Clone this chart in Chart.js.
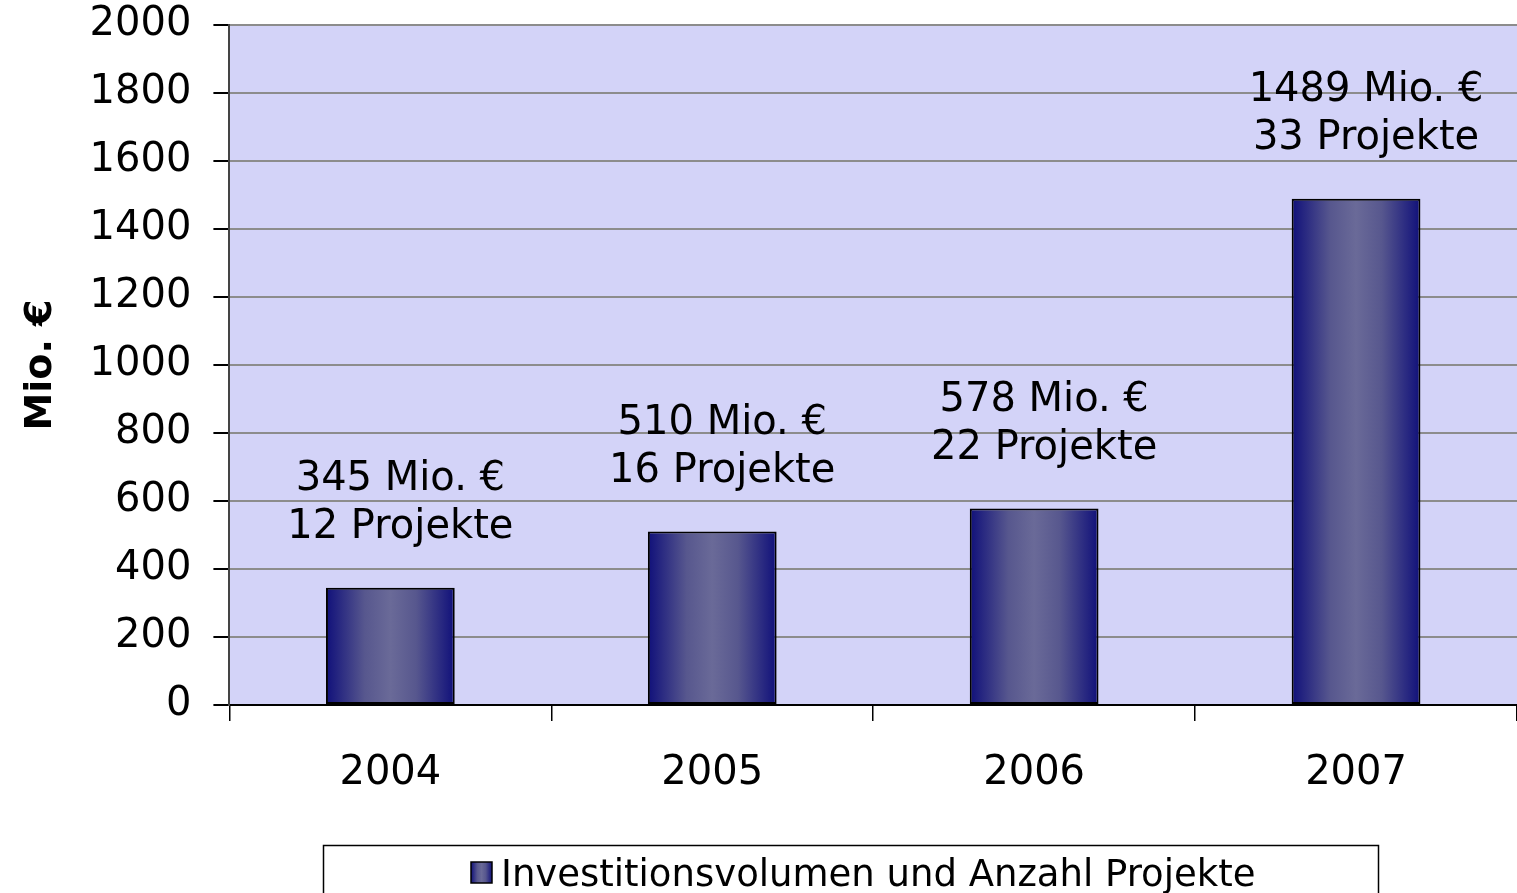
<!DOCTYPE html>
<html>
<head>
<meta charset="utf-8">
<script src="https://cdn.jsdelivr.net/npm/chart.js@4.4.0/dist/chart.umd.min.js"></script>
<style>
  html, body { margin: 0; padding: 0; background: #fff; }
  #wrap { width: 1517px; height: 893px; }
</style>
</head>
<body>
<div id="wrap"><canvas id="invChart" width="1517" height="893"></canvas></div>
<script>
// data
const years = ['2004', '2005', '2006', '2007'];
const volume = [345, 510, 578, 1489];      // Mio. €
const projects = [12, 16, 22, 33];
const yTicks = [0, 200, 400, 600, 800, 1000, 1200, 1400, 1600, 1800, 2000];
const seriesName = 'Investitionsvolumen und Anzahl Projekte';

const FONT = "'DejaVu Sans', Verdana, sans-serif";

function makeGradient(c, x0, x1) {
  const g = c.createLinearGradient(x0, 0, x1, 0);
  g.addColorStop(0, '#10107a');
  g.addColorStop(0.3, '#57578e');
  g.addColorStop(0.5, '#6a6a98');
  g.addColorStop(0.7, '#57578e');
  g.addColorStop(1, '#10107a');
  return g;
}

// gradient across each bar: dark navy edges, grey-blue middle
function barGradient(ctx) {
  const chart = ctx.chart;
  const xs = chart.scales.x;
  if (!xs || ctx.dataIndex === undefined) return '#3c3c84';
  const cx = xs.getPixelForValue(ctx.dataIndex);
  const half = xs.width / years.length * 0.4 / 2;
  if (!isFinite(cx) || !isFinite(half) || half <= 0) return '#3c3c84';
  return makeGradient(chart.ctx, cx - half, cx + half);
}

const plotBg = {
  id: 'plotBg',
  beforeDraw(chart) {
    const a = chart.chartArea, c = chart.ctx;
    c.save();
    c.fillStyle = '#d3d3f8';
    c.fillRect(a.left, a.top, a.right - a.left, a.bottom - a.top);
    c.restore();
  }
};

const barLabels = {
  id: 'barLabels',
  afterDatasetsDraw(chart) {
    const c = chart.ctx;
    const meta = chart.getDatasetMeta(0);
    c.save();
    c.fillStyle = '#000';
    c.font = '40px ' + FONT;
    c.textAlign = 'center';
    c.textBaseline = 'middle';
    meta.data.forEach((bar, i) => {
      const x = bar.x + 10;
      c.fillText(volume[i] + ' Mio. €', x, bar.y - 108);
      c.fillText(projects[i] + ' Projekte', x, bar.y - 60);
    });
    c.restore();
  }
};

// boxed legend under the plot
const legendBox = {
  id: 'legendBox',
  afterDraw(chart) {
    const c = chart.ctx;
    c.save();
    c.strokeStyle = '#000';
    c.lineWidth = 1.5;
    c.strokeRect(323.5, 845.5, 1055, 70);
    c.fillStyle = makeGradient(c, 471, 492);
    c.fillRect(471, 862, 21, 21);
    c.strokeRect(471, 862, 21, 21);
    c.fillStyle = '#000';
    c.font = '37px ' + FONT;
    c.textAlign = 'left';
    c.textBaseline = 'middle';
    c.fillText(seriesName, 501, 876);
    c.restore();
  }
};

new Chart(document.getElementById('invChart').getContext('2d'), {
  type: 'bar',
  data: {
    labels: years,
    datasets: [{
      label: seriesName,
      data: volume,
      backgroundColor: barGradient,
      borderColor: '#000',
      borderWidth: 2,
      borderSkipped: false,
      barPercentage: 0.4,
      categoryPercentage: 1
    }]
  },
  options: {
    responsive: false,
    animation: false,
    layout: { padding: { top: 25, left: 10, right: 0, bottom: 66 } },
    plugins: {
      tooltip: { enabled: false },
      legend: { display: false }
    },
    scales: {
      x: {
        grid: {
          display: true,
          drawOnChartArea: false,
          offset: true,
          tickLength: 16,
          tickColor: '#000',
          lineWidth: 1.5
        },
        border: { color: '#000', width: 2 },
        ticks: {
          color: '#000',
          font: { family: FONT, size: 40 },
          padding: 29
        }
      },
      y: {
        min: 0,
        max: 2000,
        afterBuildTicks(scale) { scale.ticks = yTicks.map(v => ({ value: v })); },
        afterFit(scale) { scale.paddingTop = 0; },
        grid: {
          color: '#8c8c8c',
          lineWidth: 2,
          tickLength: 16,
          tickColor: '#000'
        },
        border: { color: '#444', width: 2 },
        ticks: {
          color: '#000',
          font: { family: FONT, size: 40 },
          padding: 22,
          callback: v => String(v)
        },
        title: {
          display: true,
          text: 'Mio. €',
          color: '#000',
          font: { family: FONT, size: 38, weight: 'bold' },
          padding: { top: 8, bottom: 4 }
        }
      }
    }
  },
  plugins: [plotBg, barLabels, legendBox]
});
</script>
</body>
</html>
